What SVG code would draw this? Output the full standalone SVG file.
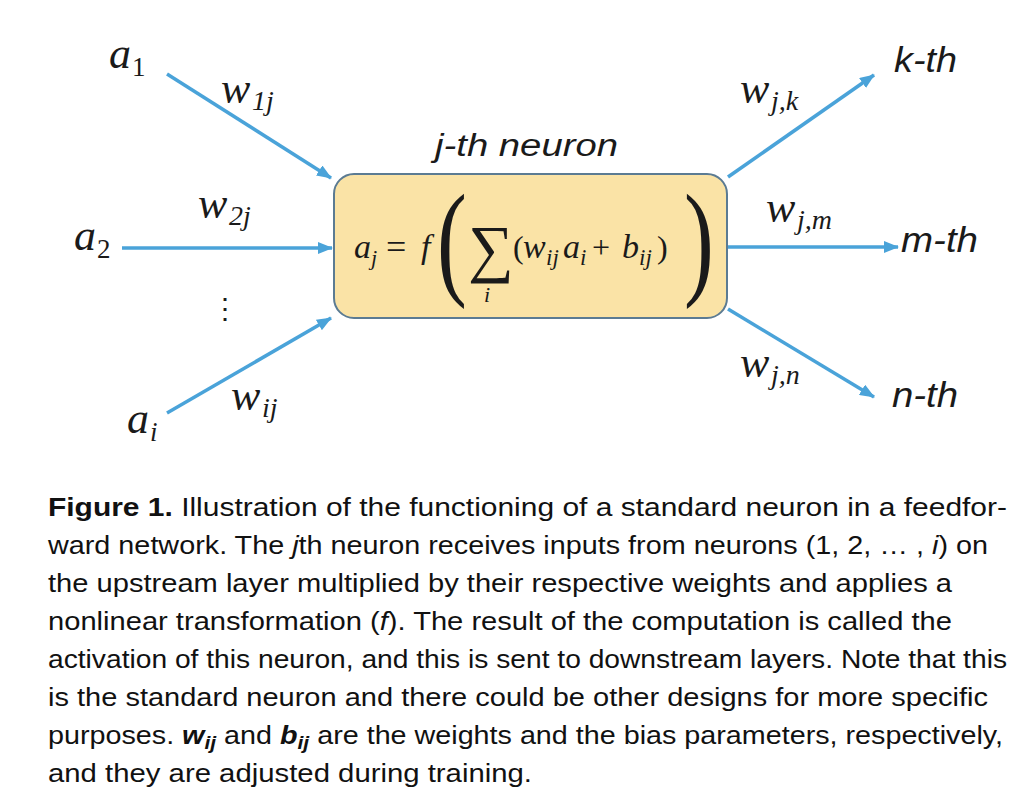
<svg xmlns="http://www.w3.org/2000/svg" width="1018" height="808" viewBox="0 0 1018 808">
<style>
.m{font-family:"Liberation Serif","DejaVu Serif",serif;font-style:italic;fill:#1a1a1a}
.r{font-family:"Liberation Serif","DejaVu Serif",serif;fill:#1a1a1a}
.lbl{font-family:"Liberation Sans","Open Sans",sans-serif;font-style:italic;fill:#1a1a1a}
.cap{font-family:"Liberation Sans","Open Sans",sans-serif;font-size:26px;fill:#111}
.con{stroke:#4aa3d9;stroke-width:3.5;fill:none;marker-end:url(#ah)}
</style>
<defs>
<marker id="ah" markerUnits="userSpaceOnUse" markerWidth="15" markerHeight="12" refX="14" refY="6" orient="auto">
<path d="M0,0 L15,6 L0,12 z" fill="#4aa3d9"/>
</marker>
</defs>
<rect width="1018" height="808" fill="#ffffff"/>
<g id="connectors">
<line class="con" x1="167" y1="74" x2="331" y2="178"/>
<line class="con" x1="122" y1="248" x2="332" y2="248"/>
<line class="con" x1="167" y1="413" x2="331" y2="318"/>
<line class="con" x1="728" y1="177" x2="874" y2="75"/>
<line class="con" x1="728" y1="247" x2="898" y2="247"/>
<line class="con" x1="728" y1="309" x2="874" y2="397"/>
</g>
<g id="input-a1"><text class="m" x="109" y="68" font-size="44">a<tspan x="132" font-size="27" font-style="normal" dy="8">1</tspan></text></g>
<g id="input-a2"><text class="m" x="74" y="250" font-size="44">a<tspan x="97" font-size="27" font-style="normal" dy="8">2</tspan></text></g>
<g id="input-dots"><text class="r" x="211" y="318" font-size="28">⋮</text></g>
<g id="input-ai"><text class="m" x="127" y="433" font-size="44">a<tspan x="150" font-size="27" dy="8">i</tspan></text></g>
<g id="w1j"><text class="m" x="221" y="103" font-size="44">w<tspan x="252" font-size="28" dy="7">1j</tspan></text></g>
<g id="w2j"><text class="m" x="198" y="218" font-size="44">w<tspan x="229" font-size="28" dy="7">2j</tspan></text></g>
<g id="wij"><text class="m" x="231" y="410" font-size="44">w<tspan x="262" font-size="28" dy="7">ij</tspan></text></g>
<g id="neuron">
<text class="lbl" x="435" y="156" font-size="31" textLength="183" lengthAdjust="spacingAndGlyphs">j-th neuron</text>
<rect x="334" y="174" width="393" height="144" rx="20" fill="#fae3a6" stroke="#5b7b93" stroke-width="2"/>
<text class="m" x="354" y="258" font-size="34">a<tspan x="371" font-size="22" dy="7">j</tspan></text>
<text class="r" x="386" y="259" font-size="36">=</text>
<text class="m" x="421" y="258" font-size="34">f</text>
<text class="r" transform="translate(437,282) scale(0.7,1)" font-size="128">(</text>
<text class="r" transform="translate(684,282) scale(0.7,1)" font-size="128">)</text>
<text class="r" x="468" y="270" font-size="64">∑</text>
<text class="m" x="484" y="302" font-size="22">i</text>
<text class="r" x="513" y="258" font-size="32">(</text>
<text class="m" x="523" y="258" font-size="34">w</text>
<text class="m" x="546" y="265" font-size="23">ij</text>
<text class="m" x="563" y="258" font-size="34">a</text>
<text class="m" x="580" y="265" font-size="23">i</text>
<text class="r" x="592" y="258" font-size="32">+</text>
<text class="m" x="622" y="258" font-size="34">b</text>
<text class="m" x="639" y="265" font-size="23">ij</text>
<text class="r" x="657" y="258" font-size="32">)</text>
</g>
<g id="out-k"><text class="lbl" x="894" y="72" font-size="35" textLength="63" lengthAdjust="spacingAndGlyphs">k-th</text></g>
<g id="out-m"><text class="lbl" x="901" y="252" font-size="35" textLength="77" lengthAdjust="spacingAndGlyphs">m-th</text></g>
<g id="out-n"><text class="lbl" x="892" y="407" font-size="35" textLength="66" lengthAdjust="spacingAndGlyphs">n-th</text></g>
<g id="wjk"><text class="m" x="740" y="103" font-size="44">w<tspan x="771" font-size="28" dy="7">j,k</tspan></text></g>
<g id="wjm"><text class="m" x="766" y="222" font-size="44">w<tspan x="797" font-size="28" dy="7">j,m</tspan></text></g>
<g id="wjn"><text class="m" x="740" y="377" font-size="44">w<tspan x="771" font-size="28" dy="7">j,n</tspan></text></g>
<g id="caption">
<text class="cap" x="48" y="516" textLength="959" lengthAdjust="spacingAndGlyphs"><tspan font-weight="bold">Figure 1.</tspan> Illustration of the functioning of a standard neuron in a feedfor-</text>
<text class="cap" x="48" y="554" textLength="940" lengthAdjust="spacingAndGlyphs">ward network. The <tspan font-style="italic">j</tspan>th neuron receives inputs from neurons (1, 2, … , <tspan font-style="italic">i</tspan>) on</text>
<text class="cap" x="48" y="592" textLength="904" lengthAdjust="spacingAndGlyphs">the upstream layer multiplied by their respective weights and applies a</text>
<text class="cap" x="48" y="630" textLength="904" lengthAdjust="spacingAndGlyphs">nonlinear transformation (<tspan font-style="italic">f</tspan>). The result of the computation is called the</text>
<text class="cap" x="48" y="668" textLength="959" lengthAdjust="spacingAndGlyphs">activation of this neuron, and this is sent to downstream layers. Note that this</text>
<text class="cap" x="48" y="706" textLength="940" lengthAdjust="spacingAndGlyphs">is the standard neuron and there could be other designs for more specific</text>
<text class="cap" x="48" y="744" textLength="955" lengthAdjust="spacingAndGlyphs">purposes. <tspan font-weight="bold" font-style="italic">w</tspan><tspan font-weight="bold" font-style="italic" font-size="19" dy="5">ij</tspan><tspan dy="-5"> and </tspan><tspan font-weight="bold" font-style="italic">b</tspan><tspan font-weight="bold" font-style="italic" font-size="19" dy="5">ij</tspan><tspan dy="-5"> are the weights and the bias parameters, respectively,</tspan></text>
<text class="cap" x="48" y="782" textLength="484" lengthAdjust="spacingAndGlyphs">and they are adjusted during training.</text>
</g>
</svg>
